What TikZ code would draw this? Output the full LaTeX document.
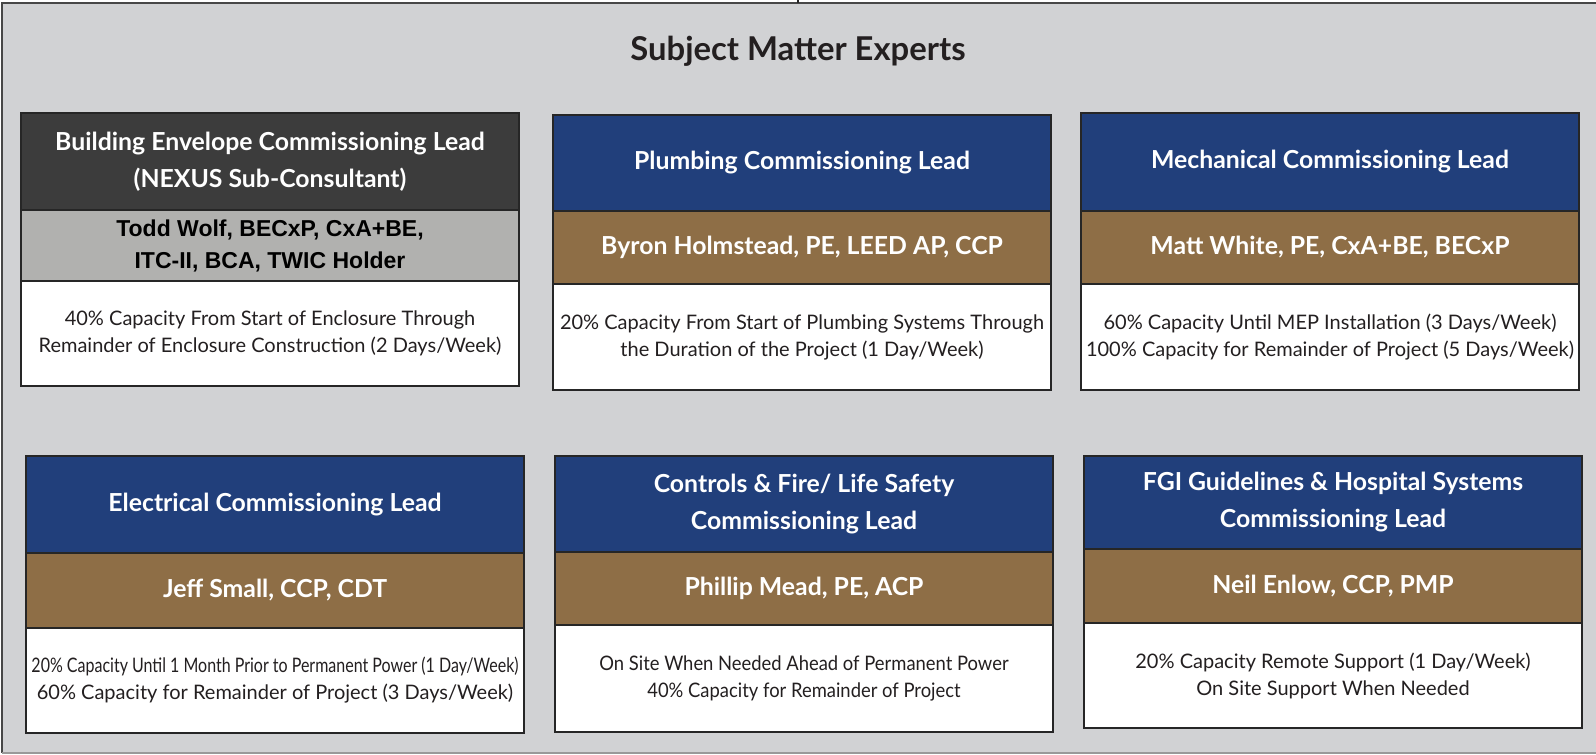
\documentclass[tikz,border=0pt]{standalone}
\usepackage{fontspec}
\setmainfont{Lato}
\newfontfamily\arialfont{Liberation Sans}
\usetikzlibrary{positioning}
\definecolor{bggray}{HTML}{D1D2D4}
\definecolor{darkhead}{HTML}{3C3C3C}
\definecolor{navy}{HTML}{213F7B}
\definecolor{brown}{HTML}{8E6E46}
\definecolor{lightband}{HTML}{B1B1AF}
\definecolor{edge}{HTML}{262626}
\definecolor{ink}{HTML}{231F20}

\tikzset{
  card/.style={draw=edge, line width=2pt, outer sep=0pt, inner sep=0pt, align=center,
    minimum width=498pt},
  head/.style={card, fill=navy, text=white, minimum height=97pt,
    font=\bfseries\fontsize{24.8}{37}\selectfont},
  names/.style={card, fill=brown, text=white, minimum height=73pt,
    font=\bfseries\fontsize{24.8}{32}\selectfont},
  duty/.style={card, fill=white, text=ink, minimum height=105pt,
    font=\fontsize{20}{27}\selectfont},
}

\begin{document}
\begin{tikzpicture}[x=1pt, y=-1pt]
    \useasboundingbox (0,0) rectangle (1596,755);

    % Draw frame (open on the right)
    \fill[bggray] (1.5,3) rectangle (1700,753);
    \draw[edge!85, line width=2pt] (1700,3) -- (1.5,3) -- (1.5,753);
    \draw[black!40, line width=2pt] (1.5,753) -- (1700,753);
    \coordinate (stub) at (798,0);
    \coordinate (frametop) at (798,3);
    \draw[edge, line width=1.5pt] (stub) -- (frametop);

    % Title
    \node[font=\bfseries\fontsize{32.8}{32.8}\selectfont, text=ink] (title) at (798,51) {Subject Matter Experts};

    % Top row
    \node[head, fill=darkhead, anchor=north west] (envhead) at (21,113)
        {Building Envelope Commissioning Lead\\(NEXUS Sub-Consultant)};
    \node[names, fill=lightband, text=black, minimum height=71pt,
        font=\arialfont\bfseries\fontsize{23}{32}\selectfont, below=0pt of envhead] (envname)
        {Todd Wolf, BECxP, CxA+BE,\\ITC-II, BCA, TWIC Holder};
    \node[duty, below=0pt of envname] (envduty)
        {40\% Capacity From Start of Enclosure Through\\Remainder of Enclosure Construction (2 Days/Week)};

    \node[head, minimum height=96pt, anchor=north west] (plumbhead) at (553,115) {Plumbing Commissioning Lead};
    \node[names, below=0pt of plumbhead] (plumbname) {Byron Holmstead, PE, LEED AP, CCP};
    \node[duty, minimum height=106pt, below=0pt of plumbname] (plumbduty)
        {20\% Capacity From Start of Plumbing Systems Through\\the Duration of the Project (1 Day/Week)};

    \node[head, minimum height=98pt, anchor=north west] (mechhead) at (1081,113) {Mechanical Commissioning Lead};
    \node[names, below=0pt of mechhead] (mechname) {Matt White, PE, CxA+BE, BECxP};
    \node[duty, minimum height=106pt, below=0pt of mechname] (mechduty)
        {60\% Capacity Until MEP Installation (3 Days/Week)\\100\% Capacity for Remainder of Project (5 Days/Week)};

    % Bottom row
    \node[head, anchor=north west] (elechead) at (26,456) {Electrical Commissioning Lead};
    \node[names, minimum height=75pt, below=0pt of elechead] (elecname) {Jeff Small, CCP, CDT};
    \node[duty, below=0pt of elecname] (elecduty)
        {\scalebox{0.8}[1]{20\% Capacity Until 1 Month Prior to Permanent Power (1 Day/Week)}\\60\% Capacity for Remainder of Project (3 Days/Week)};

    \node[head, minimum height=96pt, anchor=north west] (ctrlhead) at (555,456) {Controls \& Fire/ Life Safety\\Commissioning Lead};
    \node[names, below=0pt of ctrlhead] (ctrlname) {Phillip Mead, PE, ACP};
    \node[duty, minimum height=107pt, below=0pt of ctrlname] (ctrlduty)
        {\scalebox{0.92}[1]{On Site When Needed Ahead of Permanent Power}\\\scalebox{0.92}[1]{40\% Capacity for Remainder of Project}};

    \node[head, minimum height=93pt, anchor=north west] (fgihead) at (1084,456) {FGI Guidelines \& Hospital Systems\\Commissioning Lead};
    \node[names, minimum height=74pt, below=0pt of fgihead] (fginame) {Neil Enlow, CCP, PMP};
    \node[duty, below=0pt of fginame] (fgiduty)
        {20\% Capacity Remote Support (1 Day/Week)\\On Site Support When Needed};
\end{tikzpicture}
\end{document}
